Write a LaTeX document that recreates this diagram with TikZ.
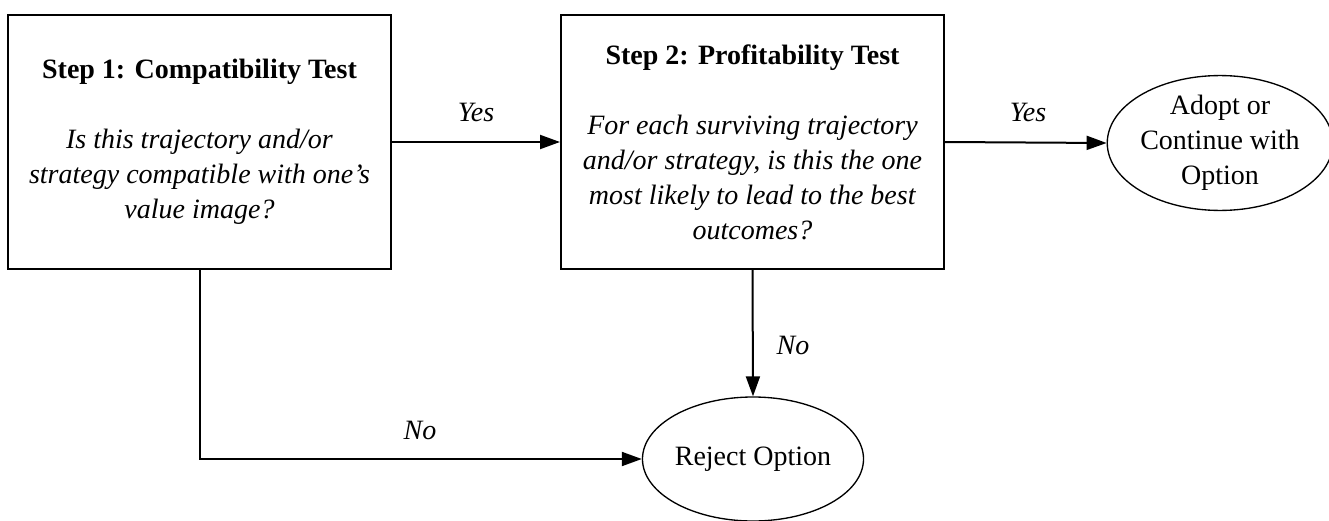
\documentclass[tikz,border=0pt]{standalone}
\usepackage{fontspec}
\setmainfont{Liberation Serif}
\usetikzlibrary{arrows.meta,shapes.geometric}

\tikzset{every picture/.style={line width=1.5pt}}
\tikzset{
  testbox/.style={draw, rectangle, minimum width=287.25pt, minimum height=190.5pt, inner sep=0pt, align=center, font=\fontsize{21}{26.25}\selectfont},
  outcome/.style={draw, ellipse, line width=1pt, inner sep=0pt, align=center, font=\fontsize{21}{26.25}\selectfont},
  answer/.style={inner sep=0.75pt, font=\fontsize{21}{26.25}\selectfont\itshape},
  flow/.style={-{Triangle[length=15pt,width=10.5pt]}}
}

\begin{document}
\begin{tikzpicture}[x=0.75pt,y=0.75pt,yscale=-1,xscale=1]
\useasboundingbox (0,0) rectangle (1329,521);

%Shape: Rectangle [id:step1]
\node [testbox] (step1) at (199.5,142) {\textbf{Step 1: Compatibility Test}\\[26.25pt]
  \textit{Is this trajectory and/or}\\ \textit{strategy compatible with one's}\\ \textit{value image?}};
%Shape: Rectangle [id:step2]
\node [testbox] (step2) at (752.5,142) {\textbf{Step 2: Profitability Test}\\[26.25pt]
  \textit{For each surviving trajectory}\\ \textit{and/or strategy, is this the one}\\ \textit{most likely to lead to the best}\\ \textit{outcomes?}};
%Shape: Ellipse [id:adopt]
\node [outcome, minimum width=159pt, minimum height=94.5pt] (adopt) at (1220,143) {Adopt or\\Continue with\\Option};
%Shape: Ellipse [id:reject]
\node [outcome, minimum width=160.5pt, minimum height=93pt] (reject) at (753,459) {Reject Option};

%Straight Lines [id:yes1]
\draw [flow] (step1) -- (step2) ;
%Straight Lines [id:yes2]
\draw [flow] (step2.east) -- (adopt.west) ;
%Straight Lines [id:no2]
\draw [flow] (step2.south) -- (reject.north) ;
%Straight Lines [id:no1]
\draw [flow] (step1.south) |- (reject.west) ;

% Text Node
\node [answer] (yesA) at (476,112) {Yes};
% Text Node
\node [answer] (yesB) at (1028,112) {Yes};
% Text Node
\node [answer] (noB) at (793,345) {No};
% Text Node
\node [answer] (noA) at (420,430) {No};

\end{tikzpicture}
\end{document}
